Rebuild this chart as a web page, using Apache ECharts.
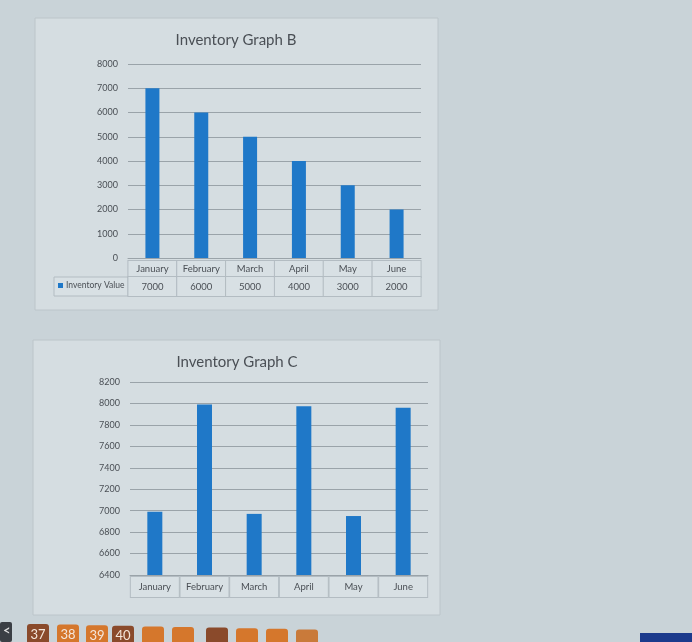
<!DOCTYPE html>
<html><head><meta charset="utf-8">
<script src="https://cdn.jsdelivr.net/npm/echarts@6/dist/echarts.min.js"></script>
<style>html,body{margin:0;padding:0;background:#c9d3d8}#c{width:692px;height:642px}</style>
</head><body><div id="c"></div>
<script>
const months = ['January','February','March','April','May','June'];
const valuesB = [7000, 6000, 5000, 4000, 3000, 2000];
const valuesC = [6990, 7990, 6970, 7975, 6950, 7960];
const seriesName = 'Inventory Value';
const titleB = 'Inventory Graph B';
const titleC = 'Inventory Graph C';
const tabLabels = ['37','38','39','40','','','','','',''];

const FONT = 'Lato, "Open Sans", sans-serif';
const TXT = '#4a4f55';
const BAR = '#1f78c8';
const GRID = '#9aa3a9';

const chart = echarts.init(document.getElementById('c'));

const tabColors = ['#8a4a2b','#d5772c','#d5772c','#8a4a2b','#d5772c','#d5772c','#8a4a2b','#d5772c','#d5772c','#c97a3a'];
const tabX = [27,57,86,112,142,172,206,236,266,296];
const tabs = [];
tabX.forEach((x,i)=>{
  tabs.push({type:'rect',shape:{x:x,y:624+i*0.6,width:22,height:20,r:3},style:{fill:tabColors[i]},z:1});
  if(tabLabels[i]) tabs.push({type:'text',x:x+11,y:628+i*0.6,style:{text:tabLabels[i],fill:'#f4e6da',font:'13px '+FONT,textAlign:'center'},z:2});
});
tabs.push({type:'rect',shape:{x:0,y:622,width:12,height:20,r:2},style:{fill:'#3b3f45'},z:1});
tabs.push({type:'text',x:3,y:624,style:{text:'<',fill:'#ddd',font:'bold 13px '+FONT},z:2});
tabs.push({type:'rect',shape:{x:640,y:633,width:52,height:9},style:{fill:'#1b3a8c'},z:1});

const cellStyle = (h) => ({width:48,height:h,align:'center',verticalAlign:'middle',borderColor:'#b3bcc2',borderWidth:1,color:TXT,fontSize:9.5,fontFamily:FONT,backgroundColor:'#d8e0e4'});
const plain = (v) => String(v);

chart.setOption({
  backgroundColor:'#c9d3d8',
  animation:false,
  title:[
    {text:titleB,left:231,top:28,textAlign:'center',textStyle:{fontFamily:FONT,fontSize:15,fontWeight:'normal',color:TXT}},
    {text:titleC,left:232,top:350,textAlign:'center',textStyle:{fontFamily:FONT,fontSize:15,fontWeight:'normal',color:TXT}}
  ],
  legend:{data:[seriesName],left:56,top:279,itemWidth:5,itemHeight:5,icon:'rect',itemGap:2,padding:2,
    textStyle:{fontFamily:FONT,fontSize:8.5,color:TXT,padding:[0,0,0,-2]}},
  graphic:[
    {type:'rect',shape:{x:35,y:18,width:403,height:292},style:{fill:'#d5dde1',stroke:'#bcc5ca',lineWidth:1},z:-10},
    {type:'rect',shape:{x:33,y:340,width:407,height:275},style:{fill:'#d5dde1',stroke:'#bcc5ca',lineWidth:1},z:-10},
    {type:'rect',shape:{x:54,y:277,width:74,height:19},style:{fill:'#d8e0e4',stroke:'#b3bcc2',lineWidth:1},z:-5}
  ].concat(tabs),
  grid:[
    {left:128,right:271,top:64,bottom:384},
    {left:130,right:264,top:382,bottom:67}
  ],
  xAxis:[
    {type:'category',gridIndex:0,data:months,axisTick:{show:false},axisLine:{lineStyle:{color:GRID}},
     axisLabel:{margin:3,interval:0,formatter:(v,i)=>'{c|'+v+'}\n{d|'+valuesB[i]+'}',
       rich:{c:cellStyle(16),d:cellStyle(19)}}},
    {type:'category',gridIndex:1,data:months,axisTick:{show:false},axisLine:{lineStyle:{color:GRID}},
     axisLabel:{margin:2,interval:0,formatter:(v)=>'{c|'+v+'}',rich:{c:cellStyle(20)}}}
  ],
  yAxis:[
    {type:'value',gridIndex:0,min:0,max:8000,interval:1000,axisLine:{show:false},axisTick:{show:false},
     splitLine:{lineStyle:{color:GRID}},axisLabel:{color:TXT,fontFamily:FONT,fontSize:9,margin:10,formatter:plain}},
    {type:'value',gridIndex:1,min:6400,max:8200,interval:200,axisLine:{show:false},axisTick:{show:false},
     splitLine:{lineStyle:{color:GRID}},axisLabel:{color:TXT,fontFamily:FONT,fontSize:9,margin:10,formatter:plain}}
  ],
  series:[
    {name:seriesName,type:'bar',xAxisIndex:0,yAxisIndex:0,data:valuesB,barWidth:14,itemStyle:{color:BAR}},
    {name:seriesName+' C',type:'bar',xAxisIndex:1,yAxisIndex:1,data:valuesC,barWidth:15,itemStyle:{color:BAR}}
  ]
});
</script></body></html>
